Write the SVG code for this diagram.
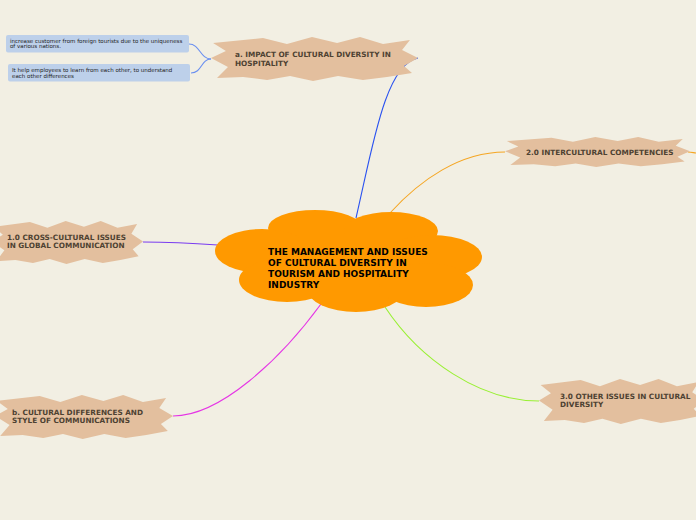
<svg xmlns="http://www.w3.org/2000/svg" xmlns:xlink="http://www.w3.org/1999/xlink" width="696" height="520" viewBox="0 0 696 520">
<style>
.burst{fill:#e3bf9e}
.nt{font-family:"DejaVu Sans",Verdana,sans-serif;font-weight:bold;font-size:7.3px;fill:#4e4232}
.ct{font-family:"DejaVu Sans",Verdana,sans-serif;font-weight:bold;font-size:9px;fill:#000}
.lt{font-family:"DejaVu Sans",Verdana,sans-serif;font-size:5.5px;fill:#222}
.leaf{fill:#bdd0ea}
.cn{fill:none;stroke-width:1.1}
.cloud{fill:#ff9900}
</style>
<defs>
<polygon id="burst" class="burst" points="1,13.6 25.1,2.3 36.7,15.9 48.8,0 60.9,13.6 72,0 83.1,15.9 96.1,6.8 92.3,29.5 100,47.7 93.2,65.9 97.1,81.8 85,90.9 73.4,97.7 61.4,88.6 49.3,100 38.2,88.6 27.1,97.7 15.5,90.9 2.9,93.2 8.2,68.2 0,47.7 7.2,31.8"/>
</defs>
<rect width="696" height="520" fill="#f2efe3"/>
<g id="connectors">
<path class="cn" stroke="#2a52f0" d="M356,218 C372,150 385,64 418,58"/>
<path class="cn" stroke="#f5a623" d="M390,213 C420,180 460,152 505,152"/>
<path class="cn" stroke="#f5a623" d="M688,152 C692,152 694,153 696,153"/>
<path class="cn" stroke="#7a3cf0" d="M218,245 C190,243 170,242 143,242"/>
<path class="cn" stroke="#e535e5" d="M321,304 C280,360 220,416 173,416"/>
<path class="cn" stroke="#99f033" d="M385,307 C420,360 480,401 539,401"/>
<path class="cn" stroke="#6a8ff0" stroke-width="0.8" d="M211,59 C200,59 200,44 189,44"/>
<path class="cn" stroke="#6a8ff0" stroke-width="0.8" d="M211,59 C201,59 202,73 191,73"/>
</g>
<g id="center">
<ellipse class="cloud" cx="350" cy="260" rx="100" ry="35"/>
<ellipse class="cloud" cx="315" cy="228" rx="47" ry="18"/>
<ellipse class="cloud" cx="391" cy="231" rx="47" ry="19"/>
<ellipse class="cloud" cx="262" cy="251" rx="47" ry="22"/>
<ellipse class="cloud" cx="432" cy="257" rx="50" ry="22"/>
<ellipse class="cloud" cx="287" cy="280" rx="48" ry="22"/>
<ellipse class="cloud" cx="356" cy="290" rx="48" ry="22"/>
<ellipse class="cloud" cx="426" cy="285" rx="47" ry="22"/>
<text class="ct" x="268" y="255">THE MANAGEMENT AND ISSUES</text>
<text class="ct" x="268" y="266">OF CULTURAL DIVERSITY IN</text>
<text class="ct" x="268" y="277">TOURISM AND HOSPITALITY</text>
<text class="ct" x="268" y="288">INDUSTRY</text>
</g>
<g id="node-a">
<use xlink:href="#burst" transform="translate(211,37) scale(2.07,0.44)"/>
<text class="nt" x="235" y="57">a. IMPACT OF CULTURAL DIVERSITY IN</text>
<text class="nt" x="235" y="65.5">HOSPITALITY</text>
</g>
<g id="node-2">
<use xlink:href="#burst" transform="translate(505,137) scale(1.85,0.30)"/>
<text class="nt" x="526" y="154.5">2.0 INTERCULTURAL COMPETENCIES</text>
</g>
<g id="node-1">
<use xlink:href="#burst" transform="translate(-8,221) scale(1.51,0.43)"/>
<text class="nt" x="7" y="240">1.0 CROSS-CULTURAL ISSUES</text>
<text class="nt" x="7" y="248">IN GLOBAL COMMUNICATION</text>
</g>
<g id="node-b">
<use xlink:href="#burst" transform="translate(-5,395) scale(1.78,0.44)"/>
<text class="nt" x="12" y="415">b. CULTURAL DIFFERENCES AND</text>
<text class="nt" x="12" y="423">STYLE OF COMMUNICATIONS</text>
</g>
<g id="node-3">
<use xlink:href="#burst" transform="translate(539,379) scale(1.66,0.45)"/>
<text class="nt" x="560" y="399">3.0 OTHER ISSUES IN CULTURAL</text>
<text class="nt" x="560" y="407">DIVERSITY</text>
</g>
<g id="leaf-1">
<rect class="leaf" x="6" y="35" width="183" height="17.5" rx="2"/>
<text class="lt" x="10" y="42.5">increase customer from foreign tourists due to the uniqueness</text>
<text class="lt" x="10" y="48.3">of various nations.</text>
</g>
<g id="leaf-2">
<rect class="leaf" x="8" y="64" width="182" height="17.5" rx="2"/>
<text class="lt" x="12" y="72">It help employees to learn from each other, to understand</text>
<text class="lt" x="12" y="78">each other differences</text>
</g>
</svg>
